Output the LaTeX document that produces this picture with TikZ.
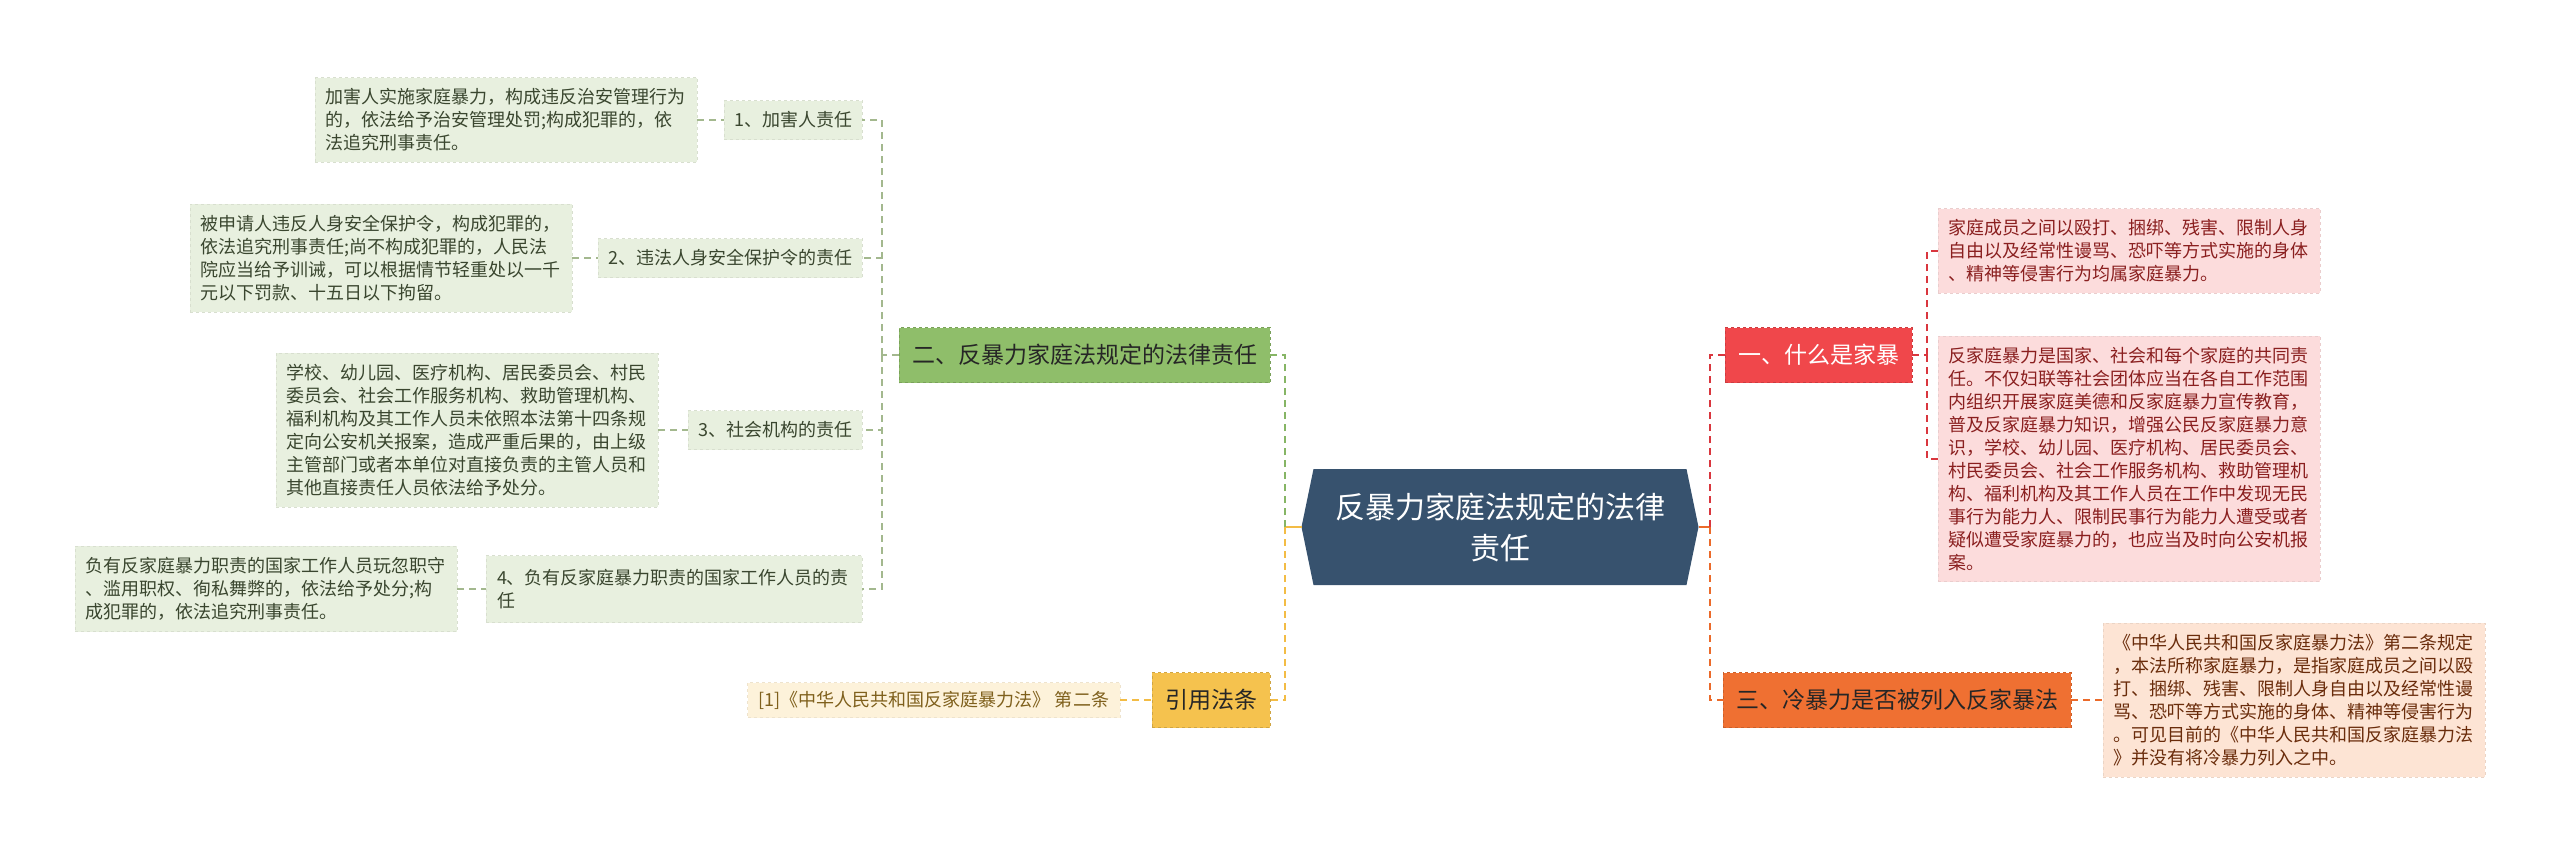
\documentclass[tikz,border=0pt]{standalone}
\usepackage{fontspec}
\setmainfont{Noto Sans CJK SC}
\usetikzlibrary{calc,backgrounds}
\definecolor{hexfill}{HTML}{37526E}
\definecolor{redfill}{HTML}{F0474B}
\definecolor{orangefill}{HTML}{EF7032}
\definecolor{greenfill}{HTML}{8FBE6A}
\definecolor{yellowfill}{HTML}{F5C24E}
\definecolor{lgreen}{HTML}{E8F0DF}
\definecolor{lpink}{HTML}{FCDCDC}
\definecolor{lpeach}{HTML}{FDE4D4}
\definecolor{lcream}{HTML}{FDF2DA}
\definecolor{gtext}{HTML}{3A462F}
\definecolor{ptext}{HTML}{8A1F1F}
\definecolor{petext}{HTML}{6A2C0B}
\definecolor{ctext}{HTML}{7F601C}
\definecolor{cgreen}{HTML}{A3B88E}
\definecolor{cgreen1}{HTML}{86B565}
\definecolor{cred}{HTML}{D9363E}
\definecolor{corange}{HTML}{EB6A2A}
\definecolor{cyellow}{HTML}{F3BC45}
\tikzset{
  every node/.style={inner sep=0pt, outer sep=0pt},
  detbox/.style={font=\fontsize{18}{23}\selectfont, align=left, text width=362pt,
    inner xsep=10pt, inner ysep=11pt, draw, dashed, line width=0.8pt},
  lvtwo/.style={fill=lgreen, draw=lgreen!93!black, dashed, line width=0.8pt, text=gtext,
    font=\fontsize{18}{23}\selectfont, inner xsep=10pt, minimum height=39pt},
  lvone/.style={font=\fontsize{23}{28}\selectfont, inner xsep=13pt, minimum height=55pt,
    dashed, line width=1pt},
  conn/.style={dashed, dash pattern=on 7pt off 5pt, line width=2pt},
  hubline/.style={line width=2.5pt}
}
\begin{document}
\begin{tikzpicture}[x=1pt,y=-1pt]
\useasboundingbox (0,0) rectangle (2560,855);

% central node
\node[minimum width=397pt, minimum height=116pt, text=white, align=center,
  font=\fontsize{30}{41}\selectfont] (hex) at (1500,527) {反暴力家庭法规定的法律\\责任};
\begin{pgfonlayer}{background}
\fill[hexfill] (hex.west) -- ($(hex.north west)+(12,0)$) -- ($(hex.north east)+(-12,0)$)
  -- (hex.east) -- ($(hex.south east)+(-12,0)$) -- ($(hex.south west)+(12,0)$) -- cycle;
\end{pgfonlayer}

% level one nodes
\node[lvone, anchor=east, fill=greenfill, draw=greenfill!85!black, text=black!85] (n2) at (1270,355) {二、反暴力家庭法规定的法律责任};
\node[lvone, anchor=east, fill=yellowfill, draw=yellowfill!85!black, text=black!85] (law) at (1270,700) {引用法条};
\node[lvone, anchor=west, fill=redfill, draw=redfill!85!black, text=white] (n1) at (1725,355) {一、什么是家暴};
\node[lvone, anchor=west, fill=orangefill, draw=orangefill!85!black, text=black!85] (n3) at (1723,700) {三、冷暴力是否被列入反家暴法};

% level two (left)
\node[lvtwo, anchor=east] (a1) at (862,120) {1、加害人责任};
\node[lvtwo, anchor=east] (a2) at (862,258) {2、违法人身安全保护令的责任};
\node[lvtwo, anchor=east] (a3) at (862,430) {3、社会机构的责任};
\node[lvtwo, anchor=east, align=left, text width=354pt, inner xsep=11pt, minimum height=67pt] (a4) at (862,589) {4、负有反家庭暴力职责的国家工作人员的责\\任};

% details left
\node[detbox, anchor=east, fill=lgreen, draw=lgreen!93!black, text=gtext] (d1) at (697,120) {加害人实施家庭暴力，构成违反治安管理行为\\的，依法给予治安管理处罚;构成犯罪的，依\\法追究刑事责任。};
\node[detbox, anchor=east, fill=lgreen, draw=lgreen!93!black, text=gtext] (d2) at (572,258) {被申请人违反人身安全保护令，构成犯罪的，\\依法追究刑事责任;尚不构成犯罪的，人民法\\院应当给予训诫，可以根据情节轻重处以一千\\元以下罚款、十五日以下拘留。};
\node[detbox, anchor=east, fill=lgreen, draw=lgreen!93!black, text=gtext] (d3) at (658,430) {学校、幼儿园、医疗机构、居民委员会、村民\\委员会、社会工作服务机构、救助管理机构、\\福利机构及其工作人员未依照本法第十四条规\\定向公安机关报案，造成严重后果的，由上级\\主管部门或者本单位对直接负责的主管人员和\\其他直接责任人员依法给予处分。};
\node[detbox, anchor=east, fill=lgreen, draw=lgreen!93!black, text=gtext] (d4) at (457,589) {负有反家庭暴力职责的国家工作人员玩忽职守\\、滥用职权、徇私舞弊的，依法给予处分;构\\成犯罪的，依法追究刑事责任。};

% citation
\node[anchor=east, fill=lcream, draw=lcream!94!black, dashed, line width=0.8pt, text=ctext,
  font=\fontsize{18}{23}\selectfont, inner xsep=11pt, minimum height=35pt] (cite) at (1120,700) {[1]《中华人民共和国反家庭暴力法》 第二条};

% details right
\node[detbox, anchor=west, fill=lpink, draw=lpink!93!black, text=ptext] (p1) at (1938,251) {家庭成员之间以殴打、捆绑、残害、限制人身\\自由以及经常性谩骂、恐吓等方式实施的身体\\、精神等侵害行为均属家庭暴力。};
\node[detbox, anchor=west, fill=lpink, draw=lpink!93!black, text=ptext] (p2) at (1938,459) {反家庭暴力是国家、社会和每个家庭的共同责\\任。不仅妇联等社会团体应当在各自工作范围\\内组织开展家庭美德和反家庭暴力宣传教育，\\普及反家庭暴力知识，增强公民反家庭暴力意\\识，学校、幼儿园、医疗机构、居民委员会、\\村民委员会、社会工作服务机构、救助管理机\\构、福利机构及其工作人员在工作中发现无民\\事行为能力人、限制民事行为能力人遭受或者\\疑似遭受家庭暴力的，也应当及时向公安机报\\案。};
\node[detbox, anchor=west, fill=lpeach, draw=lpeach!93!black, text=petext] (pe) at (2103,700) {《中华人民共和国反家庭暴力法》第二条规定\\，本法所称家庭暴力，是指家庭成员之间以殴\\打、捆绑、残害、限制人身自由以及经常性谩\\骂、恐吓等方式实施的身体、精神等侵害行为\\。可见目前的《中华人民共和国反家庭暴力法\\》并没有将冷暴力列入之中。};

% bus coordinates
\coordinate (busL) at (1285,527);
\coordinate (busR) at (1710,527);
\coordinate (busG) at (882,355);
\coordinate (busP) at (1927,355);

% hub connectors
\draw[hubline, cyellow] (hex.west) -- (busL);
\draw[hubline, corange] (hex.east) -- (busR);
\draw[conn, cgreen1] (busL) |- (n2.east);
\draw[conn, cyellow] (busL) |- (law.east);
\draw[conn, cred] (busR) |- (n1.west);
\draw[conn, corange] (busR) |- (n3.west);

% left green bus
\draw[conn, cgreen] (n2.west) -- (busG);
\draw[conn, cgreen] (busG) |- (a1.east);
\draw[conn, cgreen] (busG) |- (a2.east);
\draw[conn, cgreen] (busG) |- (a3.east);
\draw[conn, cgreen] (busG) |- (a4.east);
\draw[conn, cgreen] (d1.east) -- (a1.west);
\draw[conn, cgreen] (d2.east) -- (a2.west);
\draw[conn, cgreen] (d3.east) -- (a3.west);
\draw[conn, cgreen] (d4.east) -- (a4.west);

% citation
\draw[conn, cyellow] (cite.east) -- (law.west);

% right
\draw[conn, cred] (n1.east) -- (busP);
\draw[conn, cred] (busP) |- (p1.west);
\draw[conn, cred] (busP) |- (p2.west);
\draw[conn, corange] (n3.east) -- (pe.west);
\end{tikzpicture}
\end{document}
